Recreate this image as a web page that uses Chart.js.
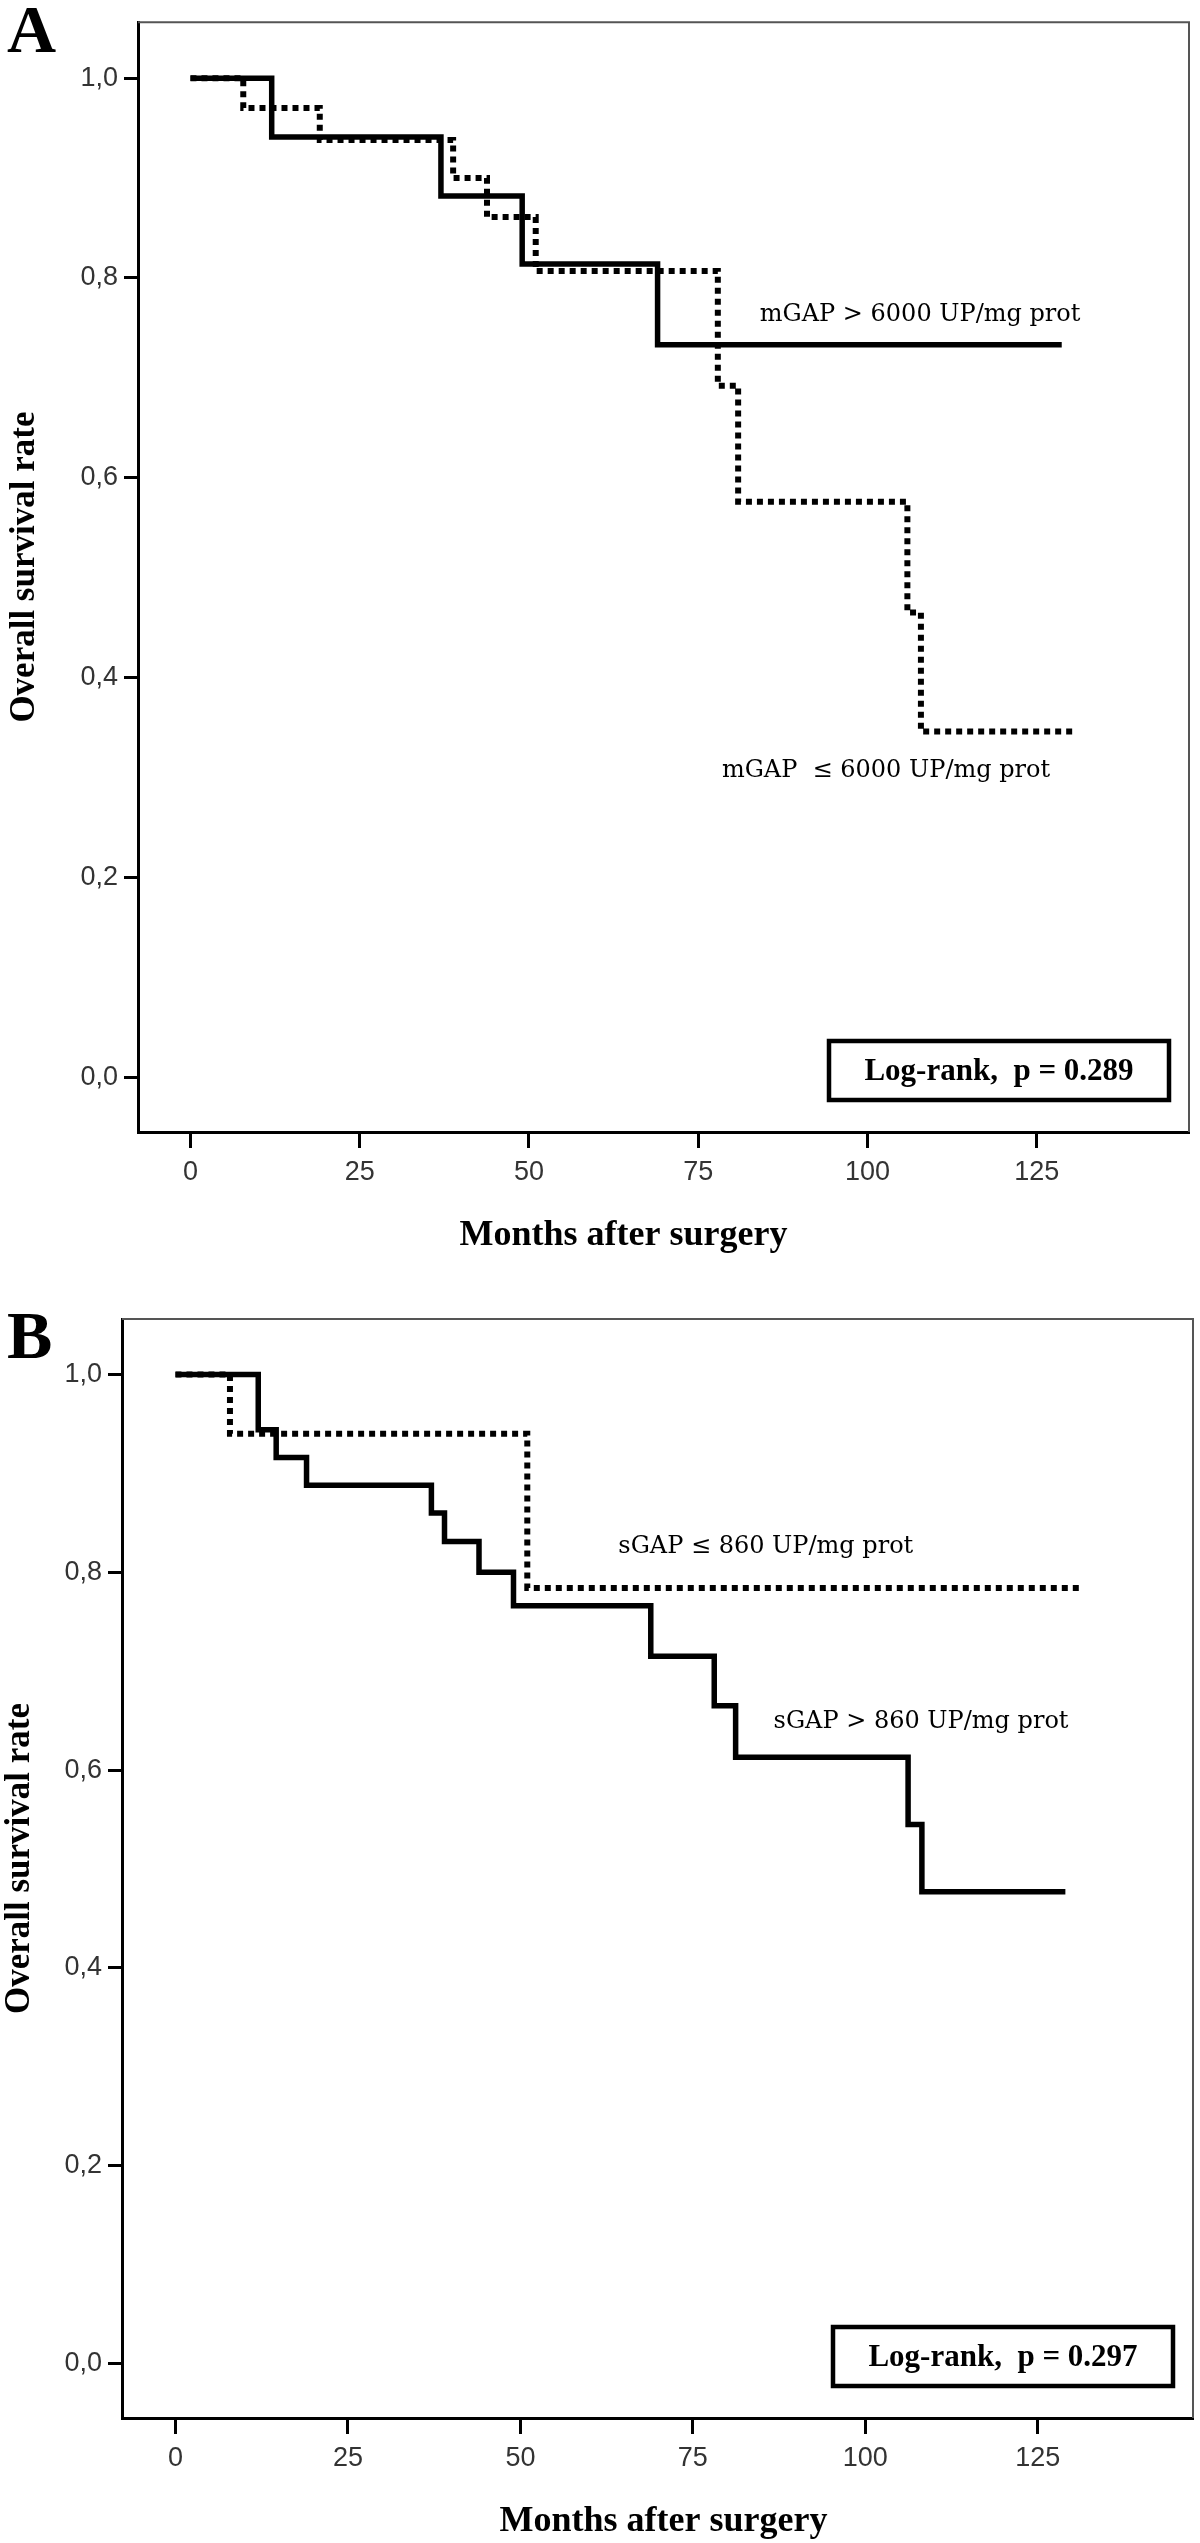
<!DOCTYPE html>
<html>
<head>
<meta charset="utf-8">
<title>Overall survival by GAP activity</title>
<script src="https://cdn.jsdelivr.net/npm/chart.js@4.4.1/dist/chart.umd.min.js"></script>
<style>
  body { margin: 0; background: #fff; }
  canvas { display: block; }
</style>
</head>
<body>
<canvas id="chartA" width="1200" height="1271"></canvas>
<canvas id="chartB" width="1200" height="1272"></canvas>
<script>
// axis ticks
const monthTicks = [0, 25, 50, 75, 100, 125];
const rateTicks = [0, 0.2, 0.4, 0.6, 0.8, 1.0];

// Panel A - mGAP groups (months, survival after each step)
const mHighMonths = [0, 12, 37, 49, 69, 128.7];
const mHighRate   = [1, 0.941, 0.882, 0.814, 0.733, 0.733];
const mLowMonths  = [0, 7.8, 19.1, 38.8, 43.8, 51, 77.9, 80.9, 105.9, 107.9, 130.7];
const mLowRate    = [1, 0.970, 0.938, 0.900, 0.861, 0.807, 0.692, 0.576, 0.465, 0.346, 0.346];

// Panel B - sGAP groups
const sLowMonths  = [0, 7.9, 51, 131];
const sLowRate    = [1, 0.940, 0.784, 0.784];
const sHighMonths = [0, 12, 14.6, 19, 37.1, 39, 44, 49, 68.9, 78.1, 81.2, 106.2, 108.2, 129];
const sHighRate   = [1, 0.944, 0.916, 0.888, 0.860, 0.831, 0.800, 0.766, 0.715, 0.665, 0.613, 0.545, 0.477, 0.477];

const pValues = ['0.289', '0.297'];

const tickFont = { family: 'Liberation Sans', size: 27 };

// frame, titles, curve labels and log-rank box
const kmDeco = {
  id: 'kmDeco',
  afterDraw(chart, args, o) {
    const ctx = chart.ctx, a = chart.chartArea;
    const x = chart.scales.x, y = chart.scales.y;
    ctx.save();
    ctx.strokeStyle = '#555';
    ctx.lineWidth = 2;
    ctx.beginPath();
    ctx.moveTo(a.left, a.top);
    ctx.lineTo(a.right, a.top);
    ctx.lineTo(a.right, a.bottom);
    ctx.stroke();

    ctx.fillStyle = '#000';
    ctx.textAlign = 'left';
    ctx.textBaseline = 'alphabetic';
    ctx.font = 'bold 68px "Liberation Serif"';
    ctx.fillText(o.letter, 7, o.letterY);

    ctx.font = '24px "DejaVu Serif"';
    o.labels.forEach(l => {
      ctx.fillText(l.text, x.getPixelForValue(l.month), y.getPixelForValue(l.rate));
    });

    ctx.textAlign = 'center';
    ctx.font = 'bold 36px "Liberation Serif"';
    ctx.fillText('Months after surgery', (a.left + a.right) / 2 + o.xTitleShift, a.bottom + 113);

    ctx.save();
    ctx.translate(o.yTitleX, (a.top + a.bottom) / 2 - 10);
    ctx.rotate(-Math.PI / 2);
    ctx.font = 'bold 35px "Liberation Serif"';
    ctx.fillText('Overall survival rate', 0, 0);
    ctx.restore();

    // log-rank box
    const bw = 340, bh = 59;
    const bx = a.right - 20 - bw, by = a.bottom - 32 - bh;
    ctx.strokeStyle = '#000';
    ctx.lineWidth = 4.5;
    ctx.strokeRect(bx, by, bw, bh);
    ctx.font = 'bold 31px "Liberation Serif"';
    ctx.fillText('Log-rank,  p = ' + o.pValue, bx + bw / 2, by + 39);
    ctx.restore();
  }
};

function makeChart(id, series, deco, frame) {
  return new Chart(document.getElementById(id), {
    type: 'line',
    data: {
      datasets: series.map(s => ({
        label: s.label,
        data: s.months.map((m, i) => ({ x: m, y: s.rate[i] })),
        stepped: 'before',
        borderColor: '#000',
        borderWidth: s.dotted ? 6 : 5.5,
        borderDash: s.dotted ? [6, 5] : [],
        borderCapStyle: 'butt',
        pointRadius: 0,
        fill: false
      }))
    },
    options: {
      responsive: false,
      animation: false,
      devicePixelRatio: 1,
      layout: { padding: { top: frame.top, right: frame.right, left: 0, bottom: 0 } },
      plugins: {
        legend: { display: false },
        tooltip: { enabled: false },
        kmDeco: deco
      },
      scales: {
        x: {
          type: 'linear',
          min: -7.75,
          max: 147.5,
          afterBuildTicks: s => { s.ticks = monthTicks.map(v => ({ value: v })); },
          afterFit: s => { s.height = frame.xAxisH; },
          grid: { drawOnChartArea: false, tickLength: 16, tickWidth: 3, tickColor: '#000' },
          border: { color: '#000', width: 3 },
          ticks: { font: tickFont, color: '#333', padding: 8, maxRotation: 0, autoSkip: false }
        },
        y: {
          type: 'linear',
          min: -0.055,
          max: 1.056,
          afterBuildTicks: s => { s.ticks = rateTicks.map(v => ({ value: v })); },
          afterFit: s => { s.width = frame.yAxisW; },
          grid: { drawOnChartArea: false, tickLength: 14, tickWidth: 3, tickColor: '#000' },
          border: { color: '#000', width: 3 },
          ticks: {
            font: tickFont, color: '#333', padding: 6, autoSkip: false,
            callback: v => v.toFixed(1).replace('.', ',')
          }
        }
      }
    },
    plugins: [kmDeco]
  });
}

makeChart('chartA', [
  { label: 'mGAP ≤ 6000 UP/mg prot', months: mLowMonths, rate: mLowRate, dotted: true },
  { label: 'mGAP > 6000 UP/mg prot', months: mHighMonths, rate: mHighRate, dotted: false }
], {
  letter: 'A', letterY: 52, xTitleShift: -40, yTitleX: 34, pValue: pValues[0],
  labels: [
    { text: 'mGAP > 6000 UP/mg prot', month: 84.1, rate: 0.757 },
    { text: 'mGAP  ≤ 6000 UP/mg prot', month: 78.5, rate: 0.300 }
  ]
}, { top: 3, right: 11, yAxisW: 138, xAxisH: 139 });

makeChart('chartB', [
  { label: 'sGAP ≤ 860 UP/mg prot', months: sLowMonths, rate: sLowRate, dotted: true },
  { label: 'sGAP > 860 UP/mg prot', months: sHighMonths, rate: sHighRate, dotted: false }
], {
  letter: 'B', letterY: 87, xTitleShift: 6, yTitleX: 29, pValue: pValues[1],
  labels: [
    { text: 'sGAP ≤ 860 UP/mg prot', month: 64.2, rate: 0.819 },
    { text: 'sGAP > 860 UP/mg prot', month: 86.7, rate: 0.643 }
  ]
}, { top: 48, right: 7, yAxisW: 122, xAxisH: 125 });
</script>
</body>
</html>
